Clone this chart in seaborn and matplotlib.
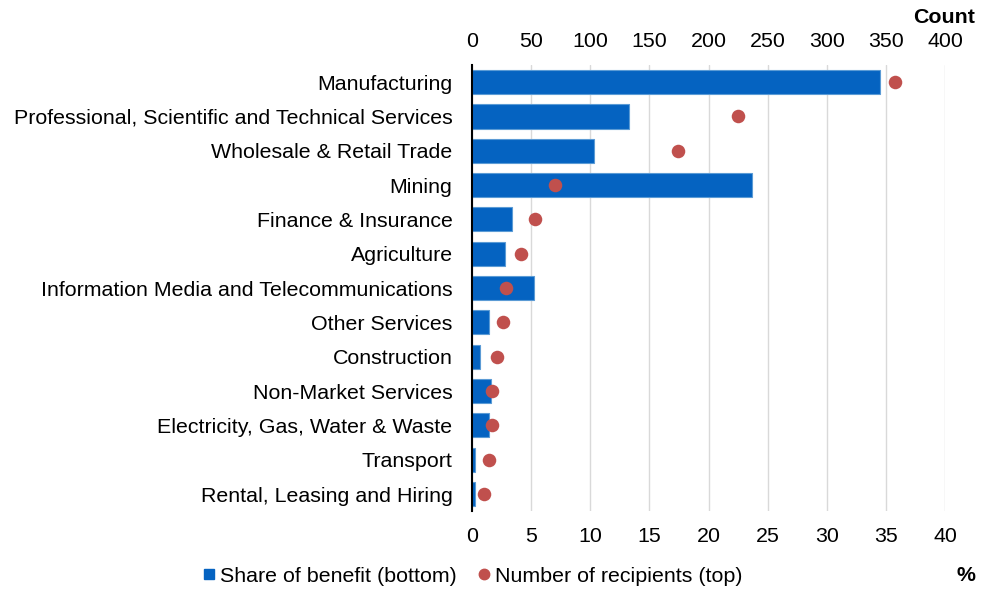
import pandas as pd
import matplotlib.pyplot as plt
import seaborn as sns

# industry data
industries = ['Manufacturing', 'Professional, Scientific and Technical Services',
              'Wholesale & Retail Trade', 'Mining', 'Finance & Insurance', 'Agriculture',
              'Information Media and Telecommunications', 'Other Services', 'Construction',
              'Non-Market Services', 'Electricity, Gas, Water & Waste', 'Transport',
              'Rental, Leasing and Hiring']
share_pct = [34.5, 13.3, 10.3, 23.7, 3.4, 2.8, 5.2, 1.4, 0.7, 1.6, 1.4, 0.25, 0.25]
recipients = [358, 225, 174, 70, 53, 41, 29, 26, 21, 17, 17, 14, 10]

pct_ticks = [0, 5, 10, 15, 20, 25, 30, 35, 40]
count_ticks = [0, 50, 100, 150, 200, 250, 300, 350, 400]

df = pd.DataFrame({'industry': industries, 'share': share_pct, 'count': recipients})

sns.set_theme(style='white')
plt.rcParams['font.family'] = ['Liberation Sans', 'DejaVu Sans']
plt.rcParams['text.color'] = 'black'

blue = '#0563C1'
red = '#C0504D'
fs = 15.4

fig = plt.figure(figsize=(9.82, 5.91), dpi=100)
ax = fig.add_axes([0.4807, 0.135, 0.4817, 0.755])

sns.barplot(data=df, y='industry', x='share', orient='h', color=blue, width=0.7,
            edgecolor='#5B9BD5', linewidth=0.8, saturation=1, ax=ax)
ax.set_xlim(0, 40)
ax.set_xticks(pct_ticks)
ax.set_ylim(len(industries) - 0.5, -0.5)
ax.set_xlabel('')
ax.set_ylabel('')
ax.grid(axis='x', color='#D9D9D9', linewidth=1)
ax.set_axisbelow(True)
ax.tick_params(axis='x', length=0, pad=11.5, labelsize=fs, colors='black')
ax.tick_params(axis='y', length=0, pad=14, labelsize=fs, colors='black')
for s in ['top', 'right', 'bottom']:
    ax.spines[s].set_visible(False)
ax.spines['left'].set_color('black')
ax.spines['left'].set_linewidth(1.5)
ax.spines['left'].set_zorder(5)

ax2 = ax.twiny()
sns.scatterplot(data=df, x='count', y='industry', color=red, s=95, linewidth=0,
                zorder=4, ax=ax2, legend=False)
ax2.set_xlim(0, 400)
ax2.set_xticks(count_ticks)
ax2.set_ylim(len(industries) - 0.5, -0.5)
ax2.set_xlabel('')
ax2.set_ylabel('')
ax2.tick_params(axis='x', length=0, pad=10, labelsize=fs, colors='black')
for s in ['top', 'right', 'bottom', 'left']:
    ax2.spines[s].set_visible(False)

fig.text(0.993, 0.971, 'Count', ha='right', va='center', fontsize=fs, fontweight='bold')
fig.text(0.993, 0.027, '%', ha='right', va='center', fontsize=fs, fontweight='bold')

handles = [plt.Line2D([], [], marker='s', color=blue, linestyle='', markersize=7),
           plt.Line2D([], [], marker='o', color=red, linestyle='', markersize=7.5)]
fig.legend(handles, ['Share of benefit (bottom)', 'Number of recipients (top)'],
           loc='center', bbox_to_anchor=(0.479, 0.025), ncol=2, frameon=False,
           fontsize=fs, handletextpad=0.0, columnspacing=0.8, handlelength=1.0)

fig.savefig('out.png', dpi=100)
